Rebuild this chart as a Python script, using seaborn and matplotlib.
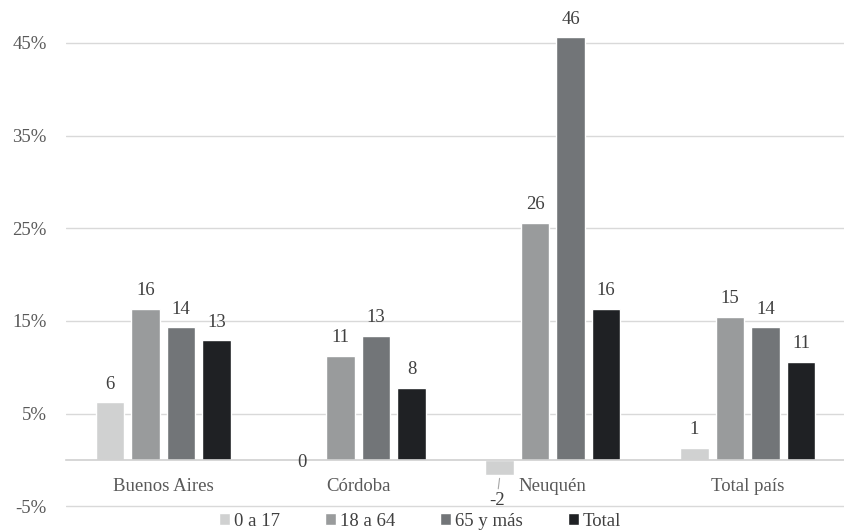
import pandas as pd
import matplotlib.pyplot as plt
import seaborn as sns

# Data (percent change)
regions = ['Buenos Aires', 'Córdoba', 'Neuquén', 'Total país']
age_groups = ['0 a 17', '18 a 64', '65 y más', 'Total']
val_0_17 = [6.2, 0.0, -1.6, 1.3]
val_18_64 = [16.3, 11.2, 25.6, 15.4]
val_65 = [14.3, 13.4, 45.6, 14.3]
val_total = [12.9, 7.8, 16.3, 10.6]

colors = ['#d0d1d1', '#999b9c', '#727578', '#1f2124']
yticks = [-5, 5, 15, 25, 35, 45]


def build_frame():
    rows = []
    for grp, vals in zip(age_groups, [val_0_17, val_18_64, val_65, val_total]):
        for reg, v in zip(regions, vals):
            rows.append({'region': reg, 'grupo': grp, 'valor': v})
    return pd.DataFrame(rows)


def main():
    df = build_frame()
    sns.set_theme(style="white")
    plt.rcParams['font.family'] = ['Liberation Serif', 'DejaVu Serif']
    fs = 13.5

    fig = plt.figure(figsize=(8.45, 5.32), dpi=100)
    ax = fig.add_axes([66 / 845, 24 / 532, 779 / 845, 504 / 532])

    sns.barplot(data=df, x='region', y='valor', hue='grupo', order=regions,
                hue_order=age_groups, palette=colors, width=0.73, gap=0.2,
                saturation=1, ax=ax, legend=True)

    ax.set_ylim(-5.2, 49.2)
    ax.set_yticks(yticks)
    ax.set_yticklabels([f'{t}%' for t in yticks], color='#595959', fontsize=fs)
    ax.yaxis.grid(True, color='#d9d9d9', linewidth=1)
    ax.set_axisbelow(True)
    ax.tick_params(axis='y', length=0, pad=14)
    ax.tick_params(axis='x', length=0, pad=13, labelsize=fs, labelcolor='#595959')
    ax.set_xlabel('')
    ax.set_ylabel('')
    for s in ['top', 'right', 'left']:
        ax.spines[s].set_visible(False)
    ax.spines['bottom'].set_position(('data', 0))
    ax.spines['bottom'].set_color('#d0d0d0')
    ax.spines['bottom'].set_linewidth(1.2)

    # value labels
    for cont in ax.containers:
        labels = []
        for bar in cont:
            h = bar.get_height()
            xc = bar.get_x() + bar.get_width() / 2
            if h < 0:
                labels.append('')
                ax.annotate(f'{h:.0f}', xy=(xc, h - 0.4),
                            xytext=(-2, -16), textcoords='offset points',
                            ha='center', va='center', fontsize=fs, color='#404040',
                            arrowprops=dict(arrowstyle='-', color='#a6a6a6', lw=0.8,
                                            shrinkA=0, shrinkB=8))
            elif h == 0:
                labels.append('')
                ax.annotate('0', xy=(xc, h), xytext=(-2, -2), textcoords='offset points',
                            ha='center', va='center', fontsize=fs, color='#404040')
            else:
                labels.append(f'{h:.0f}')
        ax.bar_label(cont, labels=labels, padding=7, fontsize=fs, color='#404040')

    handles, lbls = ax.get_legend_handles_labels()
    ax.legend_.remove()
    fig.legend(handles, lbls, loc='center', bbox_to_anchor=(0.497, 0.02), ncol=4,
               frameon=False, handlelength=0.6, handleheight=0.6, handletextpad=0.2,
               columnspacing=2.4, fontsize=fs, labelcolor='#404040')

    fig.savefig('out.png', dpi=100)
    plt.close(fig)


if __name__ == "__main__":
    main()
